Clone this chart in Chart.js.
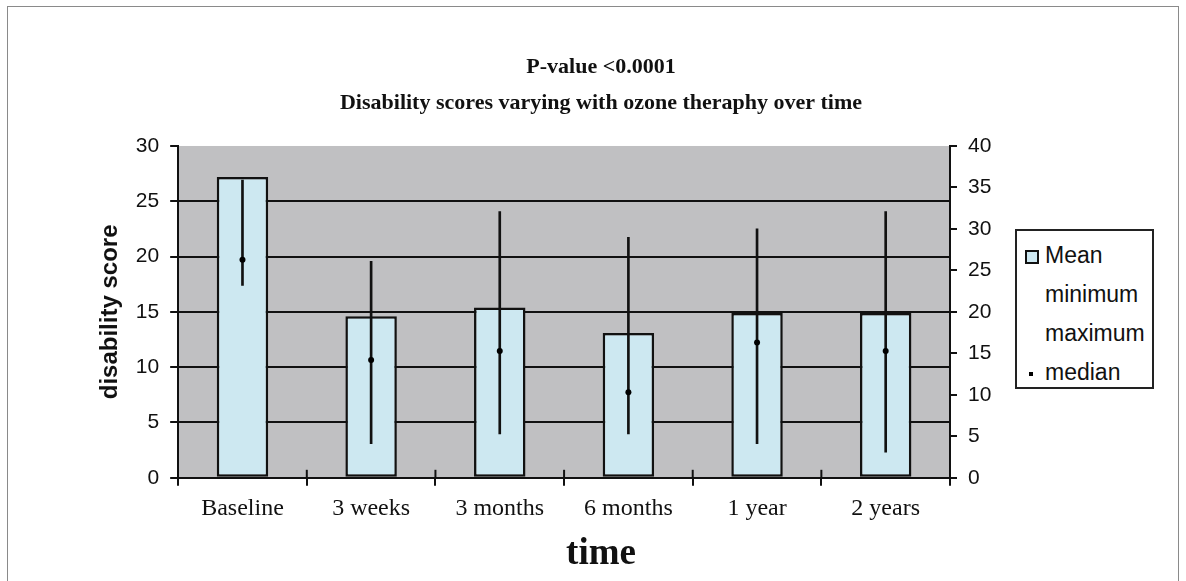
<!DOCTYPE html>
<html>
<head>
<meta charset="utf-8">
<script src="https://cdn.jsdelivr.net/npm/chart.js@4.4.0/dist/chart.umd.min.js"></script>
<style>
html,body{margin:0;padding:0;background:#fff;}
#wrap{position:relative;width:1186px;height:581px;overflow:hidden;}
#frame{position:absolute;left:7px;top:6px;width:1170px;height:600px;border:1px solid #8a8a8a;}
#legend{position:absolute;left:1015px;top:229px;width:135px;height:156px;border:2px solid #222;background:#fff;
  font-family:"Liberation Sans",Arial,sans-serif;font-size:23px;color:#111;}
#legend .row{position:absolute;left:8px;height:26px;line-height:26px;white-space:nowrap;}
#legend .sw{display:inline-block;width:14px;margin-right:6px;vertical-align:middle;}
#legend .sw.box{width:10px;height:10px;border:2px solid #111;background:#cde8f1;margin-left:0;margin-right:6px;}
#legend .sw.dot{position:relative;height:4px;}
#legend .sw.dot:after{content:"";position:absolute;left:4px;top:0;width:4px;height:4px;background:#000;}
</style>
</head>
<body>
<div id="wrap">
  <div id="frame"></div>
  <canvas id="mycanvas" width="1186" height="581"></canvas>
  <div id="legend"></div>
</div>
<script>
// values
var timePoints = ['Baseline', '3 weeks', '3 months', '6 months', '1 year', '2 years'];
var meanScore = [27.2, 14.6, 15.4, 13.1, 14.9, 14.9];      // left axis
var minScore = [23.2, 4.1, 5.3, 5.3, 4.1, 3.1];            // right axis
var maxScore = [35.9, 26.1, 32.1, 29.0, 30.0, 32.1];
var medianScore = [26.3, 14.2, 15.3, 10.3, 16.3, 15.3];
var seriesNames = ['Mean', 'minimum', 'maximum', 'median'];

var hiLo = [];
for (var i = 0; i < minScore.length; i++) {
  hiLo.push([minScore[i], maxScore[i]]);
}

// html legend
var leg = document.getElementById('legend');
var swClass = ['box', '', '', 'dot'];
for (var j = 0; j < seriesNames.length; j++) {
  var row = document.createElement('div');
  row.className = 'row';
  row.style.top = (11 + j * 39) + 'px';
  row.innerHTML = '<span class="sw ' + swClass[j] + '"></span>' + seriesNames[j];
  leg.appendChild(row);
}

var plotBg = {
  id: 'plotBg',
  beforeDraw: function(chart) {
    var a = chart.chartArea, ctx = chart.ctx;
    ctx.save();
    ctx.fillStyle = '#c0c0c2';
    ctx.fillRect(a.left, a.top, a.right - a.left, a.bottom - a.top);
    ctx.restore();
  },
  // small tick marks pointing up from the category axis, between categories
  afterDatasetsDraw: function(chart) {
    var xs = chart.scales.x, a = chart.chartArea, ctx = chart.ctx;
    ctx.save();
    ctx.strokeStyle = '#111';
    ctx.lineWidth = 2;
    for (var k = 1; k < timePoints.length; k++) {
      var px = (xs.getPixelForValue(k - 1) + xs.getPixelForValue(k)) / 2;
      ctx.beginPath();
      ctx.moveTo(px, a.bottom - 8);
      ctx.lineTo(px, a.bottom);
      ctx.stroke();
    }
    ctx.restore();
  }
};

var sans = '"Liberation Sans", Arial, sans-serif';
var serif = '"Liberation Serif", "Times New Roman", serif';

var ctx = document.getElementById('mycanvas');
var chart = new Chart(ctx, {
  type: 'bar',
  data: {
    labels: timePoints,
    datasets: [
      {
        label: seriesNames[0],
        data: meanScore,
        yAxisID: 'y',
        backgroundColor: '#cde8f1',
        borderColor: '#111',
        borderWidth: 2.5,
        borderSkipped: false,
        grouped: false,
        categoryPercentage: 1,
        barPercentage: 0.4,
        order: 3
      },
      {
        label: 'min-max',
        data: hiLo,
        yAxisID: 'y2',
        backgroundColor: '#111',
        borderWidth: 0,
        grouped: false,
        barThickness: 2,
        order: 2
      },
      {
        type: 'line',
        label: seriesNames[3],
        data: medianScore,
        yAxisID: 'y2',
        showLine: false,
        pointStyle: 'circle',
        pointRadius: 3,
        pointBackgroundColor: '#000',
        pointBorderWidth: 0,
        order: 1
      }
    ]
  },
  options: {
    responsive: false,
    animation: false,
    events: [],
    layout: { padding: { left: 92, right: 76, top: 0, bottom: 0 } },
    plugins: {
      legend: { display: false },
      tooltip: { enabled: false },
      title: {
        display: true,
        text: ['P-value <0.0001', 'Disability scores varying with ozone theraphy over time'],
        color: '#111',
        font: { family: serif, size: 22, weight: 'bold', lineHeight: 1.636 },
        padding: { top: 49, bottom: 25 }
      },
      subtitle: {
        display: true,
        position: 'bottom',
        text: 'time',
        color: '#111',
        font: { family: serif, size: 37, weight: 'bold' },
        padding: { top: 0, bottom: 4 }
      }
    },
    scales: {
      x: {
        grid: { drawOnChartArea: false, color: '#111', lineWidth: 2, tickLength: 8 },
        border: { color: '#111', width: 2 },
        ticks: { color: '#111', font: { family: serif, size: 24 }, padding: 9 }
      },
      y: {
        position: 'left',
        min: 0, max: 30,
        ticks: { stepSize: 5, color: '#111', font: { family: sans, size: 21 }, padding: 11 },
        grid: {
          color: function(c) { return c.tick && c.tick.value === 30 ? 'rgba(0,0,0,0)' : '#111'; },
          tickColor: '#111', lineWidth: 2, tickLength: 8
        },
        border: { color: '#111', width: 2 },
        title: {
          display: true, text: 'disability score', color: '#111',
          font: { family: sans, size: 24, weight: 'bold' },
          padding: { top: 4, bottom: 0 }
        }
      },
      y2: {
        position: 'right',
        min: 0, max: 40,
        ticks: { stepSize: 5, color: '#111', font: { family: sans, size: 21 }, padding: 11 },
        grid: { drawOnChartArea: false, color: '#111', lineWidth: 2, tickLength: 7 },
        border: { color: '#111', width: 2 },
        afterFit: function(scale) { scale.width = 160; }
      }
    }
  },
  plugins: [plotBg]
});
</script>
</body>
</html>
